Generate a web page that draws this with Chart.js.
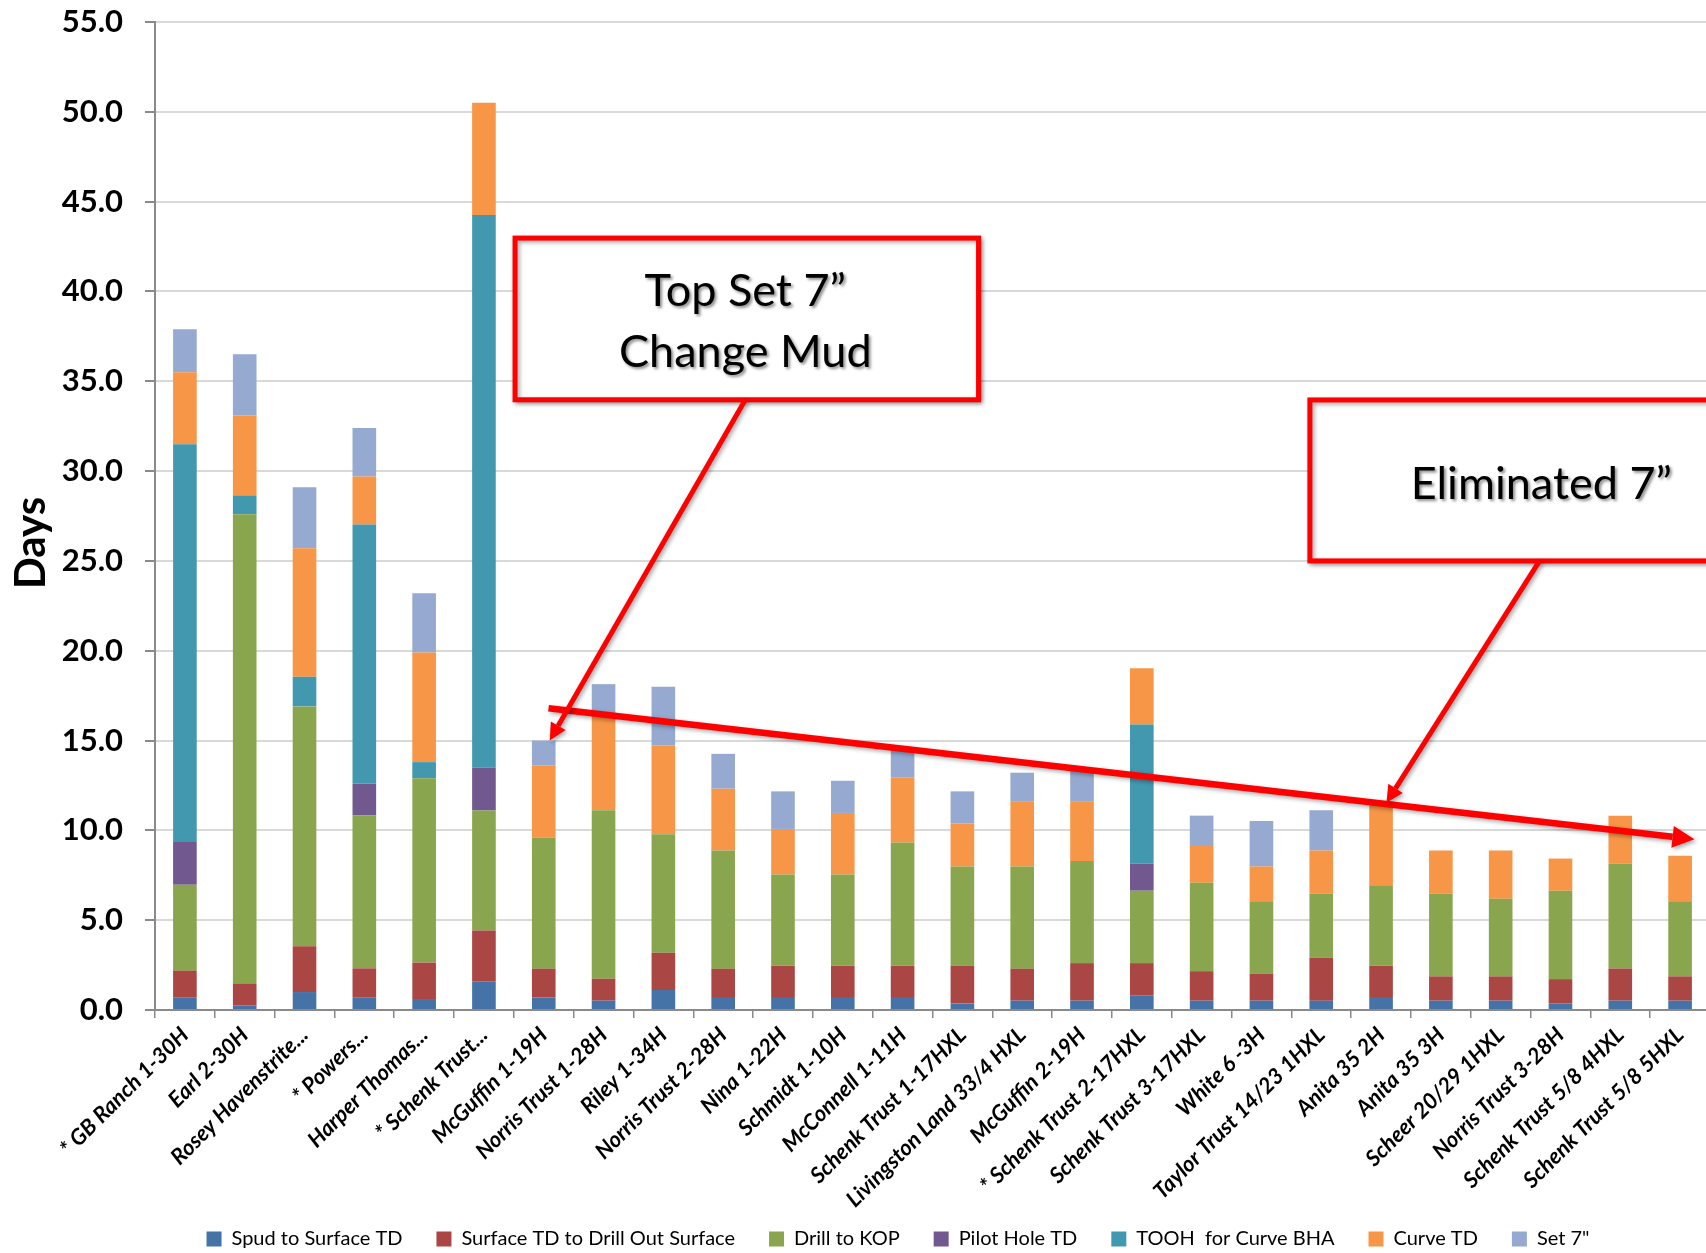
<!DOCTYPE html>
<html>
<head>
<meta charset="utf-8">
<title>Days per well</title>
<script src="https://cdn.jsdelivr.net/npm/chart.js@4.4.1/dist/chart.umd.min.js"></script>
<style>
  html, body { margin: 0; padding: 0; background: #fff; overflow: hidden; }
  #wrap { width: 1710px; height: 1253px; }
</style>
</head>
<body>
<div id="wrap"><canvas id="daysChart"></canvas></div>
<script>
// wells in drilling order
const wells = [
  "* GB Ranch 1-30H", "Earl 2-30H", "Rosey Havenstrite...", "* Powers...", "Harper Thomas...",
  "* Schenk Trust...", "McGuffin 1-19H", "Norris Trust 1-28H", "Riley 1-34H", "Norris Trust 2-28H",
  "Nina 1-22H", "Schmidt 1-10H", "McConnell 1-11H", "Schenk Trust 1-17HXL", "Livingston Land 33/4 HXL",
  "McGuffin 2-19H", "* Schenk Trust 2-17HXL", "Schenk Trust 3-17HXL", "White 6 -3H", "Taylor Trust 14/23 1HXL",
  "Anita 35 2H", "Anita 35 3H", "Scheer 20/29 1HXL", "Norris Trust 3-28H", "Schenk Trust 5/8 4HXL",
  "Schenk Trust 5/8 5HXL"
];

// days spent in each phase
const spudToSurface     = [0.71, 0.26, 1.00, 0.71, 0.56, 1.60, 0.70, 0.52, 1.12, 0.67, 0.67, 0.67, 0.67, 0.37, 0.52, 0.52, 0.82, 0.52, 0.52, 0.52, 0.67, 0.52, 0.52, 0.37, 0.52, 0.52];
const surfaceToDrillOut = [1.48, 1.19, 2.55, 1.61, 2.08, 2.82, 1.60, 1.22, 2.07, 1.63, 1.79, 1.79, 1.79, 2.09, 1.78, 2.09, 1.79, 1.64, 1.50, 2.39, 1.79, 1.35, 1.35, 1.35, 1.79, 1.35];
const drillToKop        = [4.78, 26.15, 13.35, 8.52, 10.26, 6.68, 7.30, 9.38, 6.59, 6.58, 5.08, 5.08, 6.87, 5.53, 5.69, 5.68, 4.03, 4.93, 4.03, 3.58, 4.48, 4.62, 4.33, 4.92, 5.83, 4.18];
const pilotHole         = [2.38, 0, 0, 1.75, 0, 2.38, 0, 0, 0, 0, 0, 0, 0, 0, 0, 0, 1.50, 0, 0, 0, 0, 0, 0, 0, 0, 0];
const toohCurveBha      = [22.14, 1.05, 1.65, 14.44, 0.90, 30.78, 0, 0, 0, 0, 0, 0, 0, 0, 0, 0, 7.76, 0, 0, 0, 0, 0, 0, 0, 0, 0];
const curveTd           = [4.01, 4.45, 7.15, 2.67, 6.10, 6.24, 4.00, 5.28, 4.94, 3.44, 2.54, 3.43, 3.60, 2.39, 3.60, 3.30, 3.13, 2.09, 1.94, 2.39, 4.56, 2.39, 2.68, 1.79, 2.68, 2.53];
const set7              = [2.40, 3.40, 3.40, 2.70, 3.30, 0, 1.40, 1.74, 3.27, 1.94, 2.09, 1.79, 1.67, 1.79, 1.62, 1.80, 0, 1.64, 2.53, 2.24, 0, 0, 0, 0, 0, 0];

const seriesNames = ["Spud to Surface TD", "Surface TD to Drill Out Surface", "Drill to KOP", "Pilot Hole TD", "TOOH  for Curve BHA", "Curve TD", "Set 7\""];
const seriesColors = ["#4572A7", "#AA4643", "#89A54E", "#71588F", "#4198AF", "#F79646", "#95A9D1"];
const seriesData = [spudToSurface, surfaceToDrillOut, drillToKop, pilotHole, toohCurveBha, curveTd, set7];

// callouts, anchored in (well index, days)
const notes = {
  trend: { from: [6.08, 16.8], to: [25.24, 9.5] },
  topSetBox: { x0: 5.52, x1: 13.27, y0: 42.97, y1: 33.97 },
  topSetText: { x: 9.37, lines: [["Top Set 7\u201D", 39.2], ["Change Mud", 35.8]] },
  topSetArrow: { from: [9.37, 33.97], to: [6.1, 15.0] },
  elimBox: { x0: 18.81, x1: 27.5, y0: 33.96, y1: 25.0 },
  elimText: { x: 22.68, lines: [["Eliminated 7\u201D", 28.47]] },
  elimArrow: { from: [22.65, 25.0], to: [20.09, 11.54] }
};

function arrowLine(ctx, x0, y0, x1, y1, width, head) {
  const a = Math.atan2(y1 - y0, x1 - x0);
  const bx = x1 - head * Math.cos(a);
  const by = y1 - head * Math.sin(a);
  ctx.lineWidth = width;
  ctx.beginPath();
  ctx.moveTo(x0, y0);
  ctx.lineTo(bx, by);
  ctx.stroke();
  ctx.beginPath();
  ctx.moveTo(x1, y1);
  ctx.lineTo(bx + head * 0.5 * Math.sin(a), by - head * 0.5 * Math.cos(a));
  ctx.lineTo(bx - head * 0.5 * Math.sin(a), by + head * 0.5 * Math.cos(a));
  ctx.closePath();
  ctx.fill();
}

const calloutPlugin = {
  id: 'callouts',
  afterLayout(chart) {
    // legend sits a little right of centre and low in the frame
    const lg = chart.legend;
    lg.left += 43; lg.right += 43;
    lg.top += 6; lg.bottom += 6;
  },
  afterDatasetsDraw(chart) {
    const ctx = chart.ctx;
    const xs = chart.scales.x, ys = chart.scales.y;
    const px = (i) => xs.getPixelForValue(i);
    const py = (v) => ys.getPixelForValue(v);

    ctx.save();
    ctx.strokeStyle = '#FF0000';
    ctx.fillStyle = '#FF0000';
    ctx.lineCap = 'butt';
    ctx.shadowColor = 'rgba(0,0,0,0.35)';
    ctx.shadowBlur = 4;
    ctx.shadowOffsetX = 2;
    ctx.shadowOffsetY = 2;

    const t = notes.trend;
    arrowLine(ctx, px(t.from[0]), py(t.from[1]), px(t.to[0]), py(t.to[1]), 6.5, 22);

    [notes.topSetBox, notes.elimBox].forEach(b => {
      const x0 = px(b.x0), x1 = px(b.x1), y0 = py(b.y0), y1 = py(b.y1);
      ctx.fillStyle = '#fff';
      ctx.fillRect(x0, y0, x1 - x0, y1 - y0);
      ctx.lineWidth = 5;
      ctx.strokeRect(x0, y0, x1 - x0, y1 - y0);
    });

    ctx.fillStyle = '#FF0000';
    [notes.topSetArrow, notes.elimArrow].forEach(a => {
      arrowLine(ctx, px(a.from[0]), py(a.from[1]), px(a.to[0]), py(a.to[1]), 5, 17);
    });

    ctx.fillStyle = '#000';
    ctx.font = '45px Lato';
    ctx.textAlign = 'center';
    ctx.textBaseline = 'alphabetic';
    ctx.shadowColor = 'rgba(0,0,0,0.45)';
    ctx.shadowBlur = 3;
    [notes.topSetText, notes.elimText].forEach(n => {
      n.lines.forEach(([txt, v]) => ctx.fillText(txt, px(n.x), py(v)));
    });
    ctx.restore();

    // axis title
    ctx.save();
    ctx.translate(31, py(26.0));
    ctx.rotate(-Math.PI / 2);
    ctx.fillStyle = '#000';
    ctx.font = 'bold 42px Lato';
    ctx.textAlign = 'center';
    ctx.textBaseline = 'middle';
    ctx.fillText('Days', 0, 0);
    ctx.restore();
  }
};

const ctx = document.getElementById('daysChart').getContext('2d');

const daysChart = new Chart(ctx, {
  type: 'bar',
  data: {
    labels: wells,
    datasets: seriesData.map((d, i) => ({
      label: seriesNames[i],
      data: d,
      backgroundColor: seriesColors[i],
      borderWidth: 0,
      categoryPercentage: 1,
      barPercentage: 0.395
    }))
  },
  options: {
    responsive: true,
    maintainAspectRatio: false,
    animation: false,
    layout: { padding: { top: 22, left: 0, right: 0, bottom: 0 } },
    plugins: {
      legend: {
        position: 'bottom',
        labels: {
          boxWidth: 15,
          boxHeight: 15,
          padding: 34,
          color: '#000',
          font: { family: 'Lato', size: 20 }
        }
      },
      tooltip: { enabled: false }
    },
    scales: {
      x: {
        stacked: true,
        grid: { offset: true, drawOnChartArea: false, drawTicks: true, tickLength: 8, color: '#8a8a8a', lineWidth: 1.5 },
        border: { color: '#8a8a8a', width: 2 },
        ticks: {
          autoSkip: false,
          minRotation: 45,
          maxRotation: 45,
          padding: 4,
          color: '#000',
          font: { family: 'Lato', size: 22, style: 'italic', weight: 'bold' }
        },
        afterFit: (s) => {
          s.height = 179;
          // long well names run down past the axis box, into the legend band
          s._computeLabelArea = () => null;
        }
      },
      y: {
        stacked: true,
        min: 0,
        max: 55,
        ticks: {
          stepSize: 5,
          padding: 22,
          color: '#000',
          font: { family: 'Lato', size: 31, weight: 'bold' },
          callback: (v) => v.toFixed(1)
        },
        grid: { color: '#d9d9d9', lineWidth: 2, tickColor: '#8a8a8a', tickLength: 10 },
        border: { color: '#8a8a8a', width: 2 },
        afterFit: (s) => {
          s.width = 155;
          s.paddingTop = 18;
          s.paddingBottom = 18;
        }
      }
    }
  },
  plugins: [calloutPlugin]
});
</script>
</body>
</html>
